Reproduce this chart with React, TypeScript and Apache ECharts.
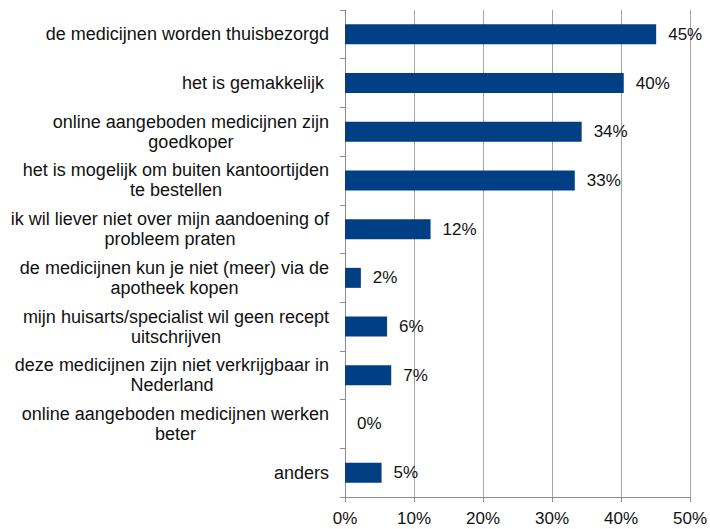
import React, { useEffect, useRef } from "react";
import * as echarts from "echarts";

const categories: string[] = [
  "de medicijnen worden thuisbezorgd",
  "het is gemakkelijk ",
  "online aangeboden medicijnen zijn\ngoedkoper",
  "het is mogelijk om buiten kantoortijden\nte bestellen",
  "ik wil liever niet over mijn aandoening of\nprobleem praten",
  "de medicijnen kun je niet (meer) via de\napotheek kopen",
  "mijn huisarts/specialist wil geen recept\nuitschrijven",
  "deze medicijnen zijn niet verkrijgbaar in\nNederland",
  "online aangeboden medicijnen werken\nbeter",
  "anders",
];

const values: number[] = [45.1, 40.4, 34.3, 33.3, 12.4, 2.3, 6.1, 6.7, 0, 5.3];

const xTicks: number[] = [0, 10, 20, 30, 40, 50];

const FONT = "'Liberation Sans', Arial, sans-serif";

export default function App() {
  const ref = useRef<HTMLDivElement>(null);
  useEffect(() => {
    if (!ref.current) return;
    const chart = echarts.init(ref.current, null, { renderer: "svg" });
    chart.setOption({
      animation: false,
      backgroundColor: "#ffffff",
      textStyle: { fontFamily: FONT },
      grid: { left: 345, right: 20, top: 10, bottom: 32, containLabel: false },
      xAxis: {
        type: "value",
        min: xTicks[0],
        max: xTicks[xTicks.length - 1],
        interval: 10,
        axisLine: { show: true, lineStyle: { color: "#8c8c8c", width: 1 } },
        axisTick: { show: true, length: 5, lineStyle: { color: "#8c8c8c" } },
        splitLine: { show: true, lineStyle: { color: "#a6a6a6", width: 1 } },
        axisLabel: {
          formatter: (v: number) => `${v}%`,
          color: "#111",
          fontSize: 17,
          fontFamily: FONT,
          margin: 13,
        },
      },
      yAxis: {
        type: "category",
        inverse: true,
        data: categories,
        axisLine: { show: true, lineStyle: { color: "#8c8c8c", width: 1 } },
        axisTick: { show: true, length: 5, lineStyle: { color: "#8c8c8c" } },
        splitLine: { show: false },
        axisLabel: {
          color: "#111",
          fontSize: 18,
          lineHeight: 20,
          fontFamily: FONT,
          margin: 16,
          align: "right",
          formatter: (v: string) =>
            v
              .split("\n")
              .map((l) => `{c|${l}}`)
              .join("\n"),
          rich: {
            c: {
              align: "center",
              fontSize: 18,
              lineHeight: 20,
              color: "#111",
              fontFamily: FONT,
            },
          },
        },
      },
      series: [
        {
          type: "bar",
          data: values,
          barWidth: 20,
          itemStyle: { color: "#003f84" },
          label: {
            show: true,
            position: "right",
            distance: 12,
            color: "#111",
            fontSize: 17,
            fontFamily: FONT,
            formatter: (p: any) => `${Math.round(p.value)}%`,
          },
        },
      ],
    });
    return () => chart.dispose();
  }, []);
  return <div ref={ref} style={{ width: 710, height: 529, position: "absolute", left: 0, top: 0 }} />;
}
